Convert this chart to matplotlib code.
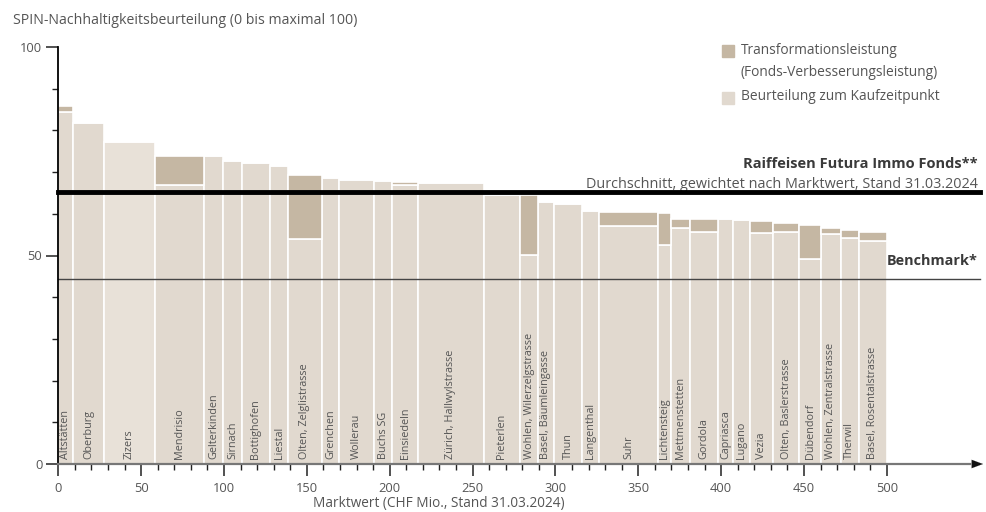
import matplotlib.pyplot as plt
import numpy as np

plt.rcParams['font.family'] = ['Open Sans', 'DejaVu Sans']

# Liegenschaften, Marktwert (Breite) und SPIN-Beurteilung
objekte = ["Altstätten", "Oberburg", "Zizers", "Mendrisio", "Gelterkinden", "Sirnach",
           "Bottighofen", "Liestal", "Olten, Zelglistrasse", "Grenchen", "Wollerau",
           "Buchs SG", "Einsiedeln", "Zürich, Hallwylstrasse", "Pieterlen",
           "Wohlen, Wilerzelgstrasse", "Basel, Bäumleingasse", "Thun", "Langenthal",
           "Suhr", "Lichtensteig", "Mettmenstetten", "Gordola", "Capriasca", "Lugano",
           "Vezia", "Olten, Baslerstrasse", "Dübendorf", "Wohlen, Zentralstrasse",
           "Therwil", "Basel, Rosentalstrasse"]
marktwert = [8.9, 18.9, 30.4, 29.5, 11.9, 11.1, 17.1, 11.0, 20.1, 10.7, 20.9,
             11.1, 15.3, 39.8, 22.1, 10.5, 10.0, 16.9, 10.1, 35.8, 7.8, 11.3,
             17.1, 9.1, 10.0, 13.7, 16.1, 12.9, 12.1, 11.0, 16.8]
kaufzeitpunkt = [84.4, 81.7, 77.1, 67.0, 73.8, 72.6, 72.2, 71.4, 54.0, 68.6, 68.1,
                 67.8, 67.0, 67.4, 64.5, 50.2, 62.9, 62.3, 60.6, 57.0, 52.6, 56.6,
                 55.7, 58.7, 58.5, 55.4, 55.6, 49.2, 55.2, 54.2, 53.4]
aktuell = [85.8, 81.7, 77.1, 73.8, 73.8, 72.6, 72.2, 71.4, 69.3, 68.6, 68.1,
           67.8, 67.7, 67.4, 64.5, 64.4, 62.9, 62.3, 60.6, 60.4, 60.3, 58.8,
           58.7, 58.7, 58.5, 58.3, 57.7, 57.4, 56.6, 56.0, 55.6]
fonds_schnitt = 65.3
benchmark = 44.3

c_base = "#e1d9cf"
c_trans = "#c5b7a3"
c_text = "#555555"

breite = np.array(marktwert)
links = np.concatenate([[0], np.cumsum(breite)[:-1]])
basis = np.array(kaufzeitpunkt)
trans = np.array(aktuell) - basis
farben = ["#e8e1d8" if n == "Zizers" else c_base for n in objekte]

fig = plt.figure(figsize=(9.87, 5.12), dpi=100)
ax = fig.add_axes([58.3 / 987, 48 / 512, 928 / 987, 417 / 512])

ax.bar(links, basis, width=breite, align="edge", color=farben, edgecolor="white", linewidth=1.2, zorder=2)
ax.bar(links, trans, width=breite, bottom=basis, align="edge", color=c_trans,
       edgecolor="white", linewidth=1.2, zorder=2)

# Beschriftungen in den Balken
for x, w, name in zip(links, breite, objekte):
    ax.text(x + w / 2, 1.2, name, rotation=90, ha="center", va="bottom",
            fontsize=7.8, color=c_text, zorder=3)

# Fonds-Durchschnitt und Benchmark
ax.plot([0, 556], [fonds_schnitt, fonds_schnitt], color="black", lw=3.5, zorder=4, clip_on=False)
ax.plot([0, 556], [benchmark, benchmark], color="#444444", lw=1, zorder=4, clip_on=False)
ax.text(555, fonds_schnitt + 6.7, "Raiffeisen Futura Immo Fonds**", ha="right", va="center",
        fontsize=10.5, fontweight="bold", color="#3a3a3a")
ax.text(555, fonds_schnitt + 1.8, "Durchschnitt, gewichtet nach Marktwert, Stand 31.03.2024",
        ha="right", va="center", fontsize=10.4, color=c_text)
ax.text(555, benchmark + 4.5, "Benchmark*", ha="right", va="center",
        fontsize=10.4, fontweight="bold", color="#3a3a3a")

# Achsen
ax.set_xlim(0, 560)
ax.set_ylim(0, 100)
for s in ax.spines.values():
    s.set_visible(False)
ax.plot([0, 0], [0, 100], color="black", lw=1.3, clip_on=False, zorder=5)
ax.annotate("", xy=(558, 0), xytext=(0, 0), xycoords="data",
            arrowprops=dict(arrowstyle="-|>,head_length=0.8,head_width=0.3", color="#111111",
                            lw=0.1, shrinkA=0, shrinkB=0), annotation_clip=False, zorder=5)
ax.plot([0, 550], [0, 0], color="#777777", lw=1.6, clip_on=False, zorder=5)

ax.set_xticks(np.arange(0, 501, 50))
ax.set_xticks(np.arange(0, 501, 10), minor=True)
ax.set_yticks([0, 50, 100])
ax.set_yticks(np.arange(0, 101, 10), minor=True)
ax.tick_params(axis="both", which="major", length=8.5, width=1.1, color="#222222",
               labelsize=9.3, labelcolor=c_text, pad=3)
ax.tick_params(axis="x", which="major", pad=4.5)
ax.tick_params(axis="both", which="minor", length=4.3, width=1.0, color="#222222")

fig.text(439 / 987, 1 - 503 / 512, "Marktwert (CHF Mio., Stand 31.03.2024)", ha="center", va="center",
         fontsize=9.8, color=c_text)
fig.text(13 / 987, 1 - 20 / 512, "SPIN-Nachhaltigkeitsbeurteilung (0 bis maximal 100)",
         ha="left", va="center", fontsize=10.2, color=c_text)

# Legende
fig.patches.append(plt.Rectangle((722 / 987, 1 - 57 / 512), 12 / 987, 12 / 512,
                                 transform=fig.transFigure, color=c_trans))
fig.patches.append(plt.Rectangle((722 / 987, 1 - 104 / 512), 12 / 987, 12 / 512,
                                 transform=fig.transFigure, color=c_base))
fig.text(741 / 987, 1 - 50 / 512, "Transformationsleistung", ha="left", va="center",
         fontsize=9.9, color=c_text)
fig.text(741 / 987, 1 - 72 / 512, "(Fonds-Verbesserungsleistung)", ha="left", va="center",
         fontsize=9.9, color=c_text)
fig.text(741 / 987, 1 - 97 / 512, "Beurteilung zum Kaufzeitpunkt", ha="left", va="center",
         fontsize=9.9, color=c_text)

fig.savefig("out.png", dpi=100)
